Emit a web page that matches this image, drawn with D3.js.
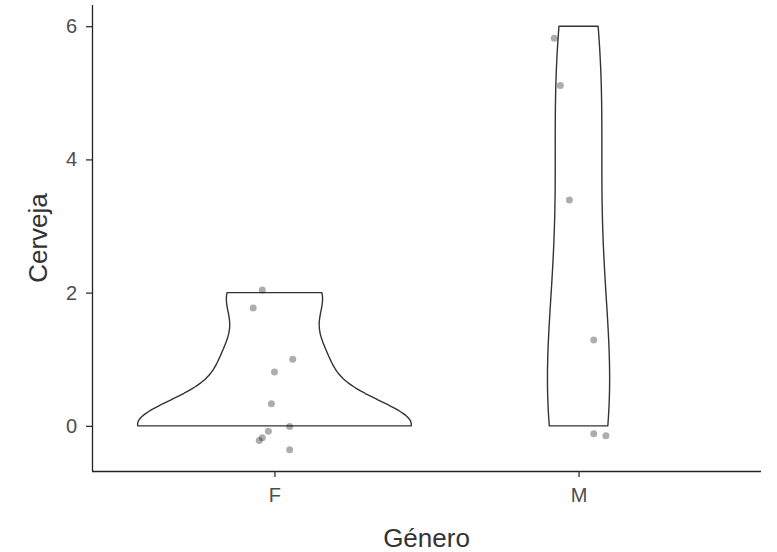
<!DOCTYPE html>
<html>
<head>
<meta charset="utf-8">
<script src="https://cdn.jsdelivr.net/npm/d3@7"></script>
<style>
  body { margin: 0; background: #fff; }
  text { font-family: "Liberation Sans", Arial, sans-serif; }
</style>
</head>
<body>
<div id="chart"></div>
<script>
// categories
const genero = ["F", "M"];
// raw values per group (used for the violin density)
const cervejaF = [0, 0, 0, 0, 0, 0, 1, 1, 2, 2];
const cervejaM = [0, 0, 1, 3, 5, 6];
// jittered points as drawn (x offset from category centre, y value)
const pontosF_dx = [-0.04, -0.07, 0.06, 0.0, -0.01, 0.05, -0.02, -0.04, -0.05, 0.05];
const pontosF_y = [2.04, 1.77, 1.00, 0.81, 0.33, -0.01, -0.08, -0.18, -0.22, -0.36];
const pontosM_dx = [-0.08, -0.06, -0.03, 0.05, 0.05, 0.09];
const pontosM_y = [5.82, 5.11, 3.39, 1.29, -0.12, -0.15];
const yTicks = [0, 2, 4, 6];

const width = 777,
    height = 552,
    margin = { top: 5, right: 16, bottom: 81, left: 92 };

const groups = [
    { key: "F", values: cervejaF, dx: pontosF_dx, y: pontosF_y },
    { key: "M", values: cervejaM, dx: pontosM_dx, y: pontosM_y }
];

// bandwidth like R's bw.nrd0
function nrd0(v) {
    const s = d3.deviation(v);
    const sorted = v.slice().sort(d3.ascending);
    const iqr = d3.quantileSorted(sorted, 0.75) - d3.quantileSorted(sorted, 0.25);
    const lo = Math.min(s, iqr / 1.34);
    return 0.9 * lo * Math.pow(v.length, -0.2);
}
const gauss = u => Math.exp(-0.5 * u * u) / Math.sqrt(2 * Math.PI);

groups.forEach(g => {
    const bw = nrd0(g.values);
    const [lo, hi] = d3.extent(g.values);
    g.dens = d3.range(512).map(i => {
        const y = lo + (hi - lo) * i / 511;
        const d = d3.sum(g.values, v => gauss((y - v) / bw)) / (g.values.length * bw);
        return { y, d };
    });
});
const maxDens = d3.max(groups, g => d3.max(g.dens, p => p.d));

const allY = groups.flatMap(g => g.y.concat(g.values));
const [yMin, yMax] = d3.extent(allY);
const pad = (yMax - yMin) * 0.05;

const xScale = d3.scaleLinear()
    .domain([0.4, 2.6])
    .range([margin.left, width - margin.right]);

const yScale = d3.scaleLinear()
    .domain([yMin - pad, yMax + pad])
    .range([height - margin.bottom, margin.top]);

const svg = d3.select("#chart")
    .append("svg")
    .attr("width", width)
    .attr("height", height);

// violins
const area = d3.area()
    .curve(d3.curveLinear)
    .y(p => yScale(p.y))
    .x0(p => p.x0)
    .x1(p => p.x1);

groups.forEach((g, i) => {
    const cx = i + 1;
    const pts = g.dens.map(p => ({
        y: p.y,
        x0: xScale(cx - 0.45 * p.d / maxDens),
        x1: xScale(cx + 0.45 * p.d / maxDens)
    }));
    svg.append("path")
        .datum(pts)
        .attr("d", area)
        .attr("fill", "white")
        .attr("stroke", "#333333")
        .attr("stroke-width", 1.4)
        .attr("stroke-linejoin", "round");
});

// jittered points
groups.forEach((g, i) => {
    svg.append("g")
        .selectAll("circle")
        .data(g.y.map((y, j) => ({ y, dx: g.dx[j] })))
        .join("circle")
        .attr("cx", d => xScale(i + 1 + d.dx))
        .attr("cy", d => yScale(d.y))
        .attr("r", 3.5)
        .attr("fill", "black")
        .attr("fill-opacity", 0.32);
});

// axes
const yAxis = d3.axisLeft(yScale).tickValues(yTicks).tickFormat(d3.format("d"))
    .tickSize(6).tickPadding(9);
const xAxis = d3.axisBottom(xScale).tickValues([1, 2])
    .tickFormat(d => genero[d - 1]).tickSize(6).tickPadding(11);

const gy = svg.append("g")
    .attr("transform", `translate(${margin.left},0)`)
    .call(yAxis);
const gx = svg.append("g")
    .attr("transform", `translate(0,${height - margin.bottom})`)
    .call(xAxis);

[gx, gy].forEach(g => {
    g.select(".domain").attr("stroke", "#222").attr("stroke-width", 1.3);
    g.selectAll(".tick line").attr("stroke", "#333").attr("stroke-width", 1.3);
    g.selectAll(".tick text")
        .attr("fill", "#4d4d4d")
        .style("font-size", "20px")
        .style("font-family", "'Liberation Sans', Arial, sans-serif");
});
gx.select(".domain").attr("d", `M${margin.left},0.5H${width - margin.right}`);
gy.select(".domain").attr("d", `M0.5,${height - margin.bottom}V${margin.top}`);

// axis titles
svg.append("text")
    .attr("x", (margin.left + width - margin.right) / 2)
    .attr("y", 547)
    .attr("text-anchor", "middle")
    .attr("fill", "#333")
    .style("font-size", "26px")
    .text("Género");

svg.append("text")
    .attr("transform", `translate(47,${(margin.top + height - margin.bottom) / 2}) rotate(-90)`)
    .attr("text-anchor", "middle")
    .attr("fill", "#333")
    .style("font-size", "26px")
    .text("Cerveja");
</script>
</body>
</html>
